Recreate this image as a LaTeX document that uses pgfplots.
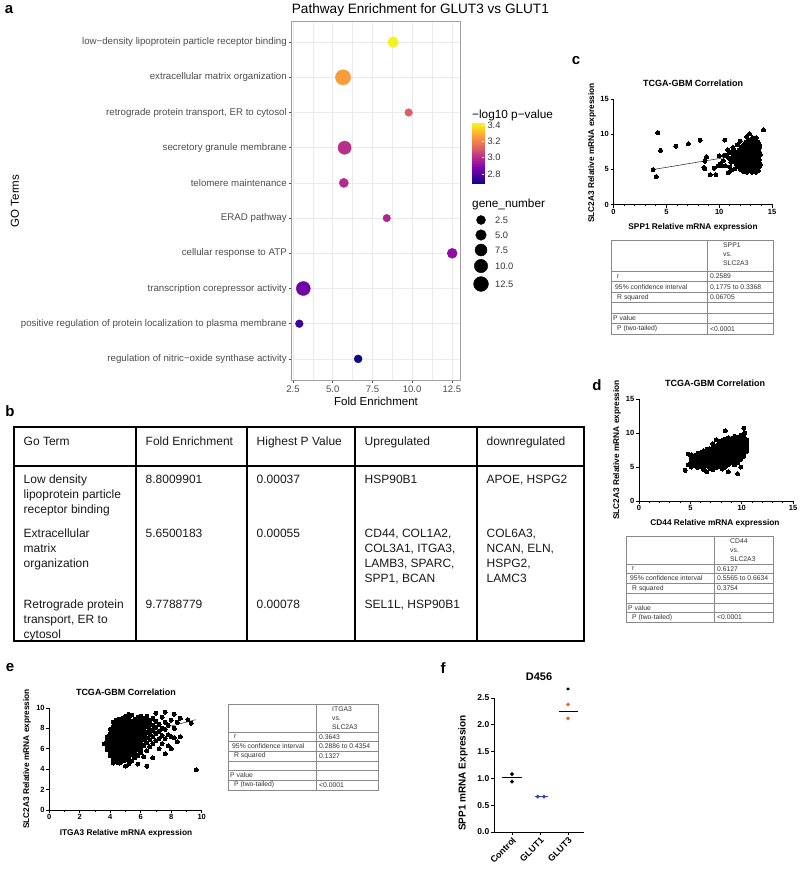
\documentclass[border=0pt]{standalone}
\usepackage{pgfplots}
\pgfplotsset{compat=1.18}
\usepackage{fontspec}
\setmainfont{Liberation Sans}
\definecolor{gtxt}{HTML}{4D4D4D}
\definecolor{ggrid}{HTML}{EBEBEB}
\definecolor{gborder}{HTML}{A0A0A0}
\definecolor{tabline}{HTML}{8A8A8A}
\definecolor{tabtxt}{HTML}{333333}
\definecolor{glutone}{HTML}{3340B5}
\definecolor{gluttwo}{HTML}{E0653C}
\newcommand{\fs}[1]{\fontsize{#1}{#1}\selectfont}
\pgfplotsset{
  colormap={plasma}{rgb255=(13,8,135) rgb255=(65,4,157) rgb255=(106,0,168) rgb255=(143,13,164) rgb255=(177,42,144) rgb255=(204,71,120) rgb255=(225,100,98) rgb255=(242,132,75) rgb255=(252,166,54) rgb255=(252,206,37) rgb255=(240,249,33)},
  gp/.style={scale only axis, axis lines=left, axis line style={-, line width=0.9pt},
    tick style={black, line width=0.8pt}, tick align=outside, major tick length=3pt, minor tick length=2pt,
    ticklabel style={font=\bfseries\fs{7.5}, inner sep=1.5pt},
    /pgf/number format/assume math mode=true, clip=false},
  dots/.style={only marks, mark=*, mark size=2.0pt, black, mark options={draw=black, fill=black, line width=0pt}},
}
\newcommand{\gphdr}{}
\newcommand{\gptable}[9]{%
  \pgfmathsetmacro{\gpb}{#5+6*#6}%
  \draw[tabline, line width=0.6pt] (#1pt,-#4pt) rectangle (#3pt,-\gpb pt);
  \draw[tabline, line width=0.6pt] (#2pt,-#4pt) -- (#2pt,-\gpb pt);
  \foreach \k in {0,...,5}{\pgfmathsetmacro{\yy}{#5+\k*#6}\draw[tabline, line width=0.6pt] (#1pt,-\yy pt) -- (#3pt,-\yy pt);}
  \node[anchor=north west, align=left, inner sep=0pt, font=\fontsize{6.8}{8.8}\selectfont, text=tabtxt] at (#2pt+16pt,-#4pt-3pt) {\gphdr};
  \pgfmathsetmacro{\ya}{#5+0.5*#6}\pgfmathsetmacro{\yb}{#5+1.5*#6}\pgfmathsetmacro{\yc}{#5+2.5*#6}\pgfmathsetmacro{\ye}{#5+4.5*#6}\pgfmathsetmacro{\yf}{#5+5.5*#6}%
  \begin{scope}[every node/.style={anchor=west, inner sep=0pt, font=\fs{6.8}, text=tabtxt}]
  \node at (#1pt+6pt,-\ya pt) {r};
  \node at (#1pt+4pt,-\yb pt) {95\% confidence interval};
  \node at (#1pt+6pt,-\yc pt) {R squared};
  \node at (#1pt+2pt,-\ye pt) {P value};
  \node at (#1pt+6pt,-\yf pt) {P (two-tailed)};
  \node at (#2pt+3pt,-\ya pt) {#7};
  \node at (#2pt+3pt,-\yb pt) {#8};
  \node at (#2pt+3pt,-\yc pt) {#9};
  \node at (#2pt+3pt,-\yf pt) {<0.0001};
  \end{scope}
}
\begin{document}
\begin{tikzpicture}
\useasboundingbox (0pt,0pt) rectangle (800pt,-877pt);
\fill[white] (0pt,0pt) rectangle (800pt,-877pt);

% ---------------- panel labels
\begin{scope}[every node/.style={font=\bfseries\fs{15}, inner sep=0pt}]
\node at (9pt,-10pt) {a};
\node at (10pt,-411pt) {b};
\node at (576pt,-61pt) {c};
\node at (597pt,-385pt) {d};
\node at (10pt,-668pt) {e};
\node at (443pt,-668pt) {f};
\end{scope}

% ---------------- panel a
\begin{axis}[scale only axis, at={(291.7pt,-21pt)}, anchor=north west, width=168.3pt, height=359pt,
  xmin=2.42, xmax=13.01, ymin=0.4, ymax=10.6, y dir=reverse,
  xtick={2.5,5,7.5,10,12.5}, minor xtick={3.75,6.25,8.75,11.25},
  ytick={1,2,3,4,5,6,7,8,9,10},
  yticklabels={low−density lipoprotein particle receptor binding, extracellular matrix organization, {retrograde protein transport, ER to cytosol}, secretory granule membrane, telomere maintenance, ERAD pathway, cellular response to ATP, transcription corepressor activity, positive regulation of protein localization to plasma membrane, regulation of nitric−oxide synthase activity},
  grid=both, major grid style={ggrid, line width=0.55pt}, minor grid style={ggrid, line width=0.3pt},
  axis line style={gborder, line width=0.5pt},
  tick align=outside, major tick length=2.75pt, minor tick length=0pt, tick style={gtxt, line width=0.5pt},
  xtick pos=bottom, ytick pos=left,
  xticklabel style={font=\fs{9.5}, text=gtxt, /pgf/number format/fixed, /pgf/number format/fixed zerofill, /pgf/number format/precision=1},
  yticklabel style={font=\fs{9.7}, text=gtxt, inner sep=2pt},
  /pgf/number format/assume math mode=true,
  colormap name=plasma, point meta min=2.69, point meta max=3.43, clip=false]
\addplot[scatter, only marks, mark=*, point meta=explicit,
  visualization depends on={\thisrow{r} \as \rad},
  scatter/use mapped color={draw=mapped color, fill=mapped color},
  scatter/@pre marker code/.append style={/tikz/mark size=\rad}]
  table[x=fe, y=idx, meta=lp] {
idx fe lp r
1 8.80 3.42 5.3
2 5.65 3.26 7.6
3 9.78 3.12 3.8
4 5.75 3.00 6.6
5 5.70 2.99 4.6
6 8.40 2.98 3.8
7 12.52 2.91 5.0
8 3.15 2.85 7.0
9 2.90 2.76 3.9
10 6.60 2.69 4.0
};
\end{axis}
\node[anchor=west, inner sep=0pt, font=\fs{13.6}] at (291.7pt,-10pt) {Pathway Enrichment for GLUT3 vs GLUT1};
\node[rotate=90, inner sep=0pt, font=\fs{11.5}] at (15pt,-201pt) {GO Terms};
\node[inner sep=0pt, font=\fs{11.5}] at (376pt,-401pt) {Fold Enrichment};

% colour bar
\node[anchor=west, inner sep=0pt, font=\fs{11.8}] at (472pt,-115pt) {−log10 p−value};
\begin{axis}[scale only axis, at={(472pt,-123pt)}, anchor=north west, width=12pt, height=60pt,
  xmin=0, xmax=1, ymin=2.69, ymax=3.425, axis line style={draw=none}, xtick=\empty,
  ytick={2.8,3.0,3.2,3.4}, ytick pos=right, yticklabel pos=right, tick align=inside, major tick length=2.4pt,
  tick style={white, line width=0.6pt},
  yticklabel style={font=\fs{9.3}, text=black!80, /pgf/number format/fixed, /pgf/number format/fixed zerofill, /pgf/number format/precision=1},
  /pgf/number format/assume math mode=true, colormap name=plasma, point meta min=2.69, point meta max=3.43, axis on top]
\addplot[surf, shader=interp, point meta=y, mesh/cols=2] coordinates {
(0,2.69) (1,2.69)

(0,2.76) (1,2.76)

(0,2.83) (1,2.83)

(0,2.90) (1,2.90)

(0,2.97) (1,2.97)

(0,3.04) (1,3.04)

(0,3.11) (1,3.11)

(0,3.18) (1,3.18)

(0,3.25) (1,3.25)

(0,3.32) (1,3.32)

(0,3.39) (1,3.39)

(0,3.425) (1,3.425)
};
\end{axis}

% size legend
\node[anchor=west, inner sep=0pt, font=\fs{11.8}] at (472pt,-204pt) {gene\_number};
\begin{axis}[scale only axis, at={(472pt,-212pt)}, anchor=north west, width=40pt, height=80pt,
  xmin=0, xmax=40, ymin=0, ymax=80, y dir=reverse, hide axis, clip=false]
\addplot[scatter, only marks, mark=*,
  visualization depends on={\thisrow{r} \as \rad},
  scatter/use mapped color={draw=black, fill=black},
  scatter/@pre marker code/.append style={/tikz/mark size=\rad}]
  table[x=x, y=y] {
x y r
9 8 4.5
9 23 5.3
9 38 6.0
9 54 6.7
9 72 7.4
};
\end{axis}
\begin{scope}[every node/.style={anchor=west, inner sep=0pt, font=\fs{9.3}, text=black!80}]
\node at (495pt,-220pt) {2.5};
\node at (495pt,-235pt) {5.0};
\node at (495pt,-250pt) {7.5};
\node at (495pt,-266pt) {10.0};
\node at (495pt,-284pt) {12.5};
\end{scope}

% ---------------- panel b (table)
\begin{scope}[line width=1.1pt]
\draw (14pt,-427pt) rectangle (584pt,-641pt);
\draw (14pt,-466pt) -- (584pt,-466pt);
\foreach \cx in {136,247,355,477} {\draw (\cx pt,-427pt) -- (\cx pt,-641pt);}
\end{scope}
\begin{scope}[every node/.style={anchor=north west, align=left, inner sep=0pt, font=\fontsize{12}{15}\selectfont, text=black!90}]
\node at (23.5pt,-437pt) {Go Term};
\node at (145.5pt,-437pt) {Fold Enrichment};
\node at (256.5pt,-437pt) {Highest P Value};
\node at (364.5pt,-437pt) {Upregulated};
\node at (486.5pt,-437pt) {downregulated};
\node at (23.5pt,-475pt) {Low density\\lipoprotein particle\\receptor binding};
\node at (145.5pt,-475pt) {8.8009901};
\node at (256.5pt,-475pt) {0.00037};
\node at (364.5pt,-475pt) {HSP90B1};
\node at (486.5pt,-475pt) {APOE, HSPG2};
\node at (23.5pt,-529pt) {Extracellular\\matrix\\organization};
\node at (145.5pt,-529pt) {5.6500183};
\node at (256.5pt,-529pt) {0.00055};
\node at (364.5pt,-529pt) {CD44, COL1A2,\\COL3A1, ITGA3,\\LAMB3, SPARC,\\SPP1, BCAN};
\node at (486.5pt,-529pt) {COL6A3,\\NCAN, ELN,\\HSPG2,\\LAMC3};
\node at (23.5pt,-600pt) {Retrograde protein\\transport, ER to\\cytosol};
\node at (145.5pt,-600pt) {9.7788779};
\node at (256.5pt,-600pt) {0.00078};
\node at (364.5pt,-600pt) {SEL1L, HSP90B1};
\end{scope}

% ---------------- panel c
\node[font=\bfseries\fs{9}, inner sep=0pt] at (693pt,-83pt) {TCGA-GBM Correlation};
\node[font=\bfseries\fs{8.3}, inner sep=0pt] at (693pt,-227pt) {SPP1 Relative mRNA expression};
\node[font=\bfseries\fs{8.3}, inner sep=0pt, rotate=90] at (592pt,-153pt) {SLC2A3 Relative mRNA expression};
\begin{axis}[gp, at={(613.5pt,-204.5pt)}, anchor=south west, width=158.5pt, height=105.5pt,
  xmin=0, xmax=15, ymin=0, ymax=15, xtick={0,5,10,15}, ytick={0,5,10,15}, minor x tick num=4]
\addplot[black!75, line width=0.6pt] coordinates {(3.75,4.97) (14.0,7.53)};
\addplot[dots] coordinates {
(3.75,4.97) (4.04,3.97) (4.19,10.22) (4.45,7.69) (5.91,8.31) (7.09,8.65) (8.20,9.13) (8.80,6.78)
(8.64,6.16) (8.55,5.26) (8.64,5.07) (9.15,4.25) (9.69,4.25) (9.53,5.16) (10.52,9.17) (10.10,5.80)
(10.25,5.50) (10.87,4.54) (12.87,10.03) (14.2,10.6) (10.0,6.9) (9.9,5.5)
(10.4,6.2) (10.5,7.0) (10.6,5.5) (10.8,7.8) (10.9,6.6) (11.0,7.4) (11.1,6.0) (11.2,4.9) (11.3,8.1)
(11.5,5.1) (11.7,8.5) (12.0,9.0) (12.3,4.7) (12.6,9.6) (10.7,6.9) (11.0,5.3) (11.4,7.7)
(12.6,4.6) (13.1,4.6) (13.5,4.6)
(12.2,4.85) (12.9,4.85) (13.3,4.85) (13.7,4.85)
(12.0,5.0) (12.5,5.0) (12.8,5.0) (13.2,5.0) (13.6,5.0)
(11.8,5.35) (12.3,5.35) (12.6,5.35) (12.9,5.35) (13.2,5.35) (13.5,5.35) (13.8,5.35)
(11.6,5.7) (12.1,5.7) (12.4,5.7) (12.7,5.7) (13.0,5.7) (13.3,5.7) (13.6,5.7) (13.9,5.7)
(11.4,6.05) (11.9,6.05) (12.2,6.05) (12.5,6.05) (12.8,6.05) (13.1,6.05) (13.4,6.05) (13.7,6.05)
(11.2,6.4) (11.7,6.4) (12.0,6.4) (12.3,6.4) (12.6,6.4) (12.9,6.4) (13.2,6.4) (13.5,6.4) (13.8,6.4)
(11.5,6.75) (11.9,6.75) (12.2,6.75) (12.5,6.75) (12.8,6.75) (13.1,6.75) (13.4,6.75) (13.7,6.75)
(11.3,7.1) (11.8,7.1) (12.1,7.1) (12.4,7.1) (12.7,7.1) (13.0,7.1) (13.3,7.1) (13.6,7.1) (13.9,7.1)
(11.6,7.45) (12.0,7.45) (12.3,7.45) (12.6,7.45) (12.9,7.45) (13.2,7.45) (13.5,7.45) (13.8,7.45)
(11.9,7.8) (12.2,7.8) (12.5,7.8) (12.8,7.8) (13.1,7.8) (13.4,7.8) (13.7,7.8)
(12.1,8.15) (12.4,8.15) (12.7,8.15) (13.0,8.15) (13.3,8.15) (13.6,8.15) (13.85,8.15)
(12.3,8.5) (12.6,8.5) (12.9,8.5) (13.2,8.5) (13.5,8.5) (13.8,8.5)
(12.5,8.85) (12.8,8.85) (13.1,8.85) (13.4,8.85) (13.7,8.85)
(12.8,9.2) (13.1,9.2) (13.4,9.2) (13.2,9.5) (13.5,9.5)
};
\end{axis}
\renewcommand{\gphdr}{SPP1\\vs.\\SLC2A3}
\gptable{611}{707}{773}{240}{271}{10.5}{0.2589}{0.1775 to 0.3368}{0.06705}

% ---------------- panel d
\node[font=\bfseries\fs{9}, inner sep=0pt] at (715pt,-383pt) {TCGA-GBM Correlation};
\node[font=\bfseries\fs{8.3}, inner sep=0pt] at (715pt,-523pt) {CD44 Relative mRNA expression};
\node[font=\bfseries\fs{8.3}, inner sep=0pt, rotate=90] at (617pt,-450pt) {SLC2A3 Relative mRNA expression};
\begin{axis}[gp, at={(639pt,-501pt)}, anchor=south west, width=154pt, height=102pt,
  xmin=0, xmax=15, ymin=0, ymax=15, xtick={0,5,10,15}, ytick={0,5,10,15}, minor x tick num=4]
\addplot[dots] coordinates {
(4.5,4.5) (4.8,5.3) (4.8,6.9)
(5.1,5.0) (5.1,5.6) (5.1,6.2) (5.1,6.8)
(5.4,5.2) (5.4,5.7) (5.4,6.2) (5.4,6.7)
(5.7,4.9) (5.7,5.4) (5.7,5.8) (5.7,6.2) (5.7,6.6) (5.7,7.0)
(6.0,5.1) (6.0,5.5) (6.0,5.9) (6.0,6.3) (6.0,6.7) (6.0,7.1)
(6.3,4.6) (6.3,5.0) (6.3,5.4) (6.3,5.8) (6.3,6.2) (6.3,6.6) (6.3,7.0) (6.3,7.4)
(6.6,4.3) (6.6,5.2) (6.6,5.6) (6.6,6.0) (6.6,6.4) (6.6,6.8) (6.6,7.2) (6.6,7.6)
(6.9,4.8) (6.9,5.3) (6.9,5.7) (6.9,6.1) (6.9,6.5) (6.9,6.9) (6.9,7.3) (6.9,7.7)
(7.2,4.6) (7.2,5.1) (7.2,5.5) (7.2,5.9) (7.2,6.3) (7.2,6.7) (7.2,7.1) (7.2,7.5) (7.2,7.9) (7.2,8.4)
(7.5,4.9) (7.5,5.3) (7.5,5.7) (7.5,6.1) (7.5,6.5) (7.5,6.9) (7.5,7.3) (7.5,7.7) (7.5,8.1) (7.5,9.0)
(7.8,5.1) (7.8,5.5) (7.8,5.9) (7.8,6.3) (7.8,6.7) (7.8,7.1) (7.8,7.5) (7.8,7.9) (7.8,8.3) (7.8,8.7)
(8.1,4.7) (8.1,5.3) (8.1,5.7) (8.1,6.1) (8.1,6.5) (8.1,6.9) (8.1,7.3) (8.1,7.7) (8.1,8.1) (8.1,8.5) (8.1,8.9)
(8.4,5.0) (8.4,5.5) (8.4,5.9) (8.4,6.3) (8.4,6.7) (8.4,7.1) (8.4,7.5) (8.4,7.9) (8.4,8.3) (8.4,8.7) (8.4,9.1) (8.4,10.3)
(8.7,4.3) (8.7,5.3) (8.7,5.7) (8.7,6.1) (8.7,6.5) (8.7,6.9) (8.7,7.3) (8.7,7.7) (8.7,8.1) (8.7,8.5) (8.7,8.9) (8.7,9.3)
(9.0,5.6) (9.0,6.0) (9.0,6.4) (9.0,6.8) (9.0,7.2) (9.0,7.6) (9.0,8.0) (9.0,8.4) (9.0,8.8) (9.0,9.2)
(9.3,5.3) (9.3,5.9) (9.3,6.3) (9.3,6.7) (9.3,7.1) (9.3,7.5) (9.3,7.9) (9.3,8.3) (9.3,8.7) (9.3,9.1) (9.3,9.5)
(9.6,4.0) (9.6,5.6) (9.6,6.2) (9.6,6.6) (9.6,7.0) (9.6,7.4) (9.6,7.8) (9.6,8.2) (9.6,8.6) (9.6,9.0) (9.6,9.4)
(9.9,5.0) (9.9,6.1) (9.9,6.5) (9.9,6.9) (9.9,7.3) (9.9,7.7) (9.9,8.1) (9.9,8.5) (9.9,8.9) (9.9,9.3) (9.9,9.7)
(10.2,6.6) (10.2,7.0) (10.2,7.4) (10.2,7.8) (10.2,8.2) (10.2,8.6) (10.2,9.0) (10.2,9.4) (10.2,10.7)
(10.5,7.3) (10.5,7.8) (10.5,8.2) (10.5,8.6) (10.5,9.0) (10.3,10.06)
};
\end{axis}
\renewcommand{\gphdr}{CD44\\vs.\\SLC2A3}
\gptable{626}{714}{773}{536}{564}{9.7}{0.6127}{0.5565 to 0.6634}{0.3754}

% ---------------- panel e
\node[font=\bfseries\fs{9}, inner sep=0pt] at (126pt,-692pt) {TCGA-GBM Correlation};
\node[font=\bfseries\fs{8.3}, inner sep=0pt] at (126pt,-833pt) {ITGA3 Relative mRNA expression};
\node[font=\bfseries\fs{8.3}, inner sep=0pt, rotate=90] at (27pt,-759pt) {SLC2A3 Relative mRNA expression};
\begin{axis}[gp, at={(49.3pt,-810pt)}, anchor=south west, width=152.4pt, height=102pt,
  xmin=0, xmax=10, ymin=0, ymax=10, xtick={0,2,4,6,8,10}, ytick={0,2,4,6,8,10}, minor x tick num=1]
\addplot[dots] coordinates {
(3.6,6.5) (3.8,5.9) (3.8,6.3) (3.8,6.8) (3.8,7.2)
(4.0,5.3) (4.0,5.7) (4.0,6.0) (4.0,6.4) (4.0,6.7) (4.0,7.1) (4.0,7.5) (4.0,7.9)
(4.2,4.6) (4.2,5.0) (4.2,5.4) (4.2,5.7) (4.2,6.0) (4.2,6.3) (4.2,6.6) (4.2,6.9) (4.2,7.2) (4.2,7.5) (4.2,7.8) (4.2,8.1) (4.2,8.6)
(4.4,4.7) (4.4,5.0) (4.4,5.3) (4.4,5.6) (4.4,5.9) (4.4,6.2) (4.4,6.5) (4.4,6.8) (4.4,7.1) (4.4,7.4) (4.4,7.7) (4.4,8.0) (4.4,8.3) (4.4,8.8)
(4.6,4.6) (4.6,4.9) (4.6,5.2) (4.6,5.5) (4.6,5.8) (4.6,6.1) (4.6,6.4) (4.6,6.7) (4.6,7.0) (4.6,7.3) (4.6,7.6) (4.6,7.9) (4.6,8.2) (4.6,8.5) (4.6,8.9)
(4.8,4.8) (4.8,5.1) (4.8,5.4) (4.8,5.7) (4.8,6.0) (4.8,6.3) (4.8,6.6) (4.8,6.9) (4.8,7.2) (4.8,7.5) (4.8,7.8) (4.8,8.1) (4.8,8.4) (4.8,8.7) (4.8,9.0)
(5.0,4.3) (5.0,4.9) (5.0,5.2) (5.0,5.5) (5.0,5.8) (5.0,6.1) (5.0,6.4) (5.0,6.7) (5.0,7.0) (5.0,7.3) (5.0,7.6) (5.0,7.9) (5.0,8.2) (5.0,8.5) (5.0,8.8) (5.0,9.2)
(5.2,4.5) (5.2,5.0) (5.2,5.3) (5.2,5.6) (5.2,5.9) (5.2,6.2) (5.2,6.5) (5.2,6.8) (5.2,7.1) (5.2,7.4) (5.2,7.7) (5.2,8.0) (5.2,8.3) (5.2,8.6) (5.2,9.0) (5.2,9.4)
(5.4,4.8) (5.4,5.4) (5.4,5.7) (5.4,6.0) (5.4,6.3) (5.4,6.6) (5.4,6.9) (5.4,7.2) (5.4,7.5) (5.4,7.8) (5.4,8.1) (5.4,8.4) (5.4,8.7) (5.4,9.3)
(5.6,5.1) (5.6,5.5) (5.6,5.8) (5.6,6.1) (5.6,6.4) (5.6,6.7) (5.6,7.0) (5.6,7.3) (5.6,7.6) (5.6,7.9) (5.6,8.2) (5.6,8.5) (5.6,8.9)
(5.8,4.5) (5.8,5.3) (5.8,5.9) (5.8,6.2) (5.8,6.5) (5.8,6.8) (5.8,7.1) (5.8,7.4) (5.8,7.7) (5.8,8.0) (5.8,8.3) (5.8,8.6) (5.8,9.1)
(6.0,5.6) (6.0,6.0) (6.0,6.4) (6.0,6.8) (6.0,7.2) (6.0,7.5) (6.0,7.8) (6.0,8.1) (6.0,8.4) (6.0,8.8) (6.0,9.2)
(6.2,5.2) (6.2,6.3) (6.2,6.9) (6.2,7.3) (6.2,7.7) (6.2,8.0) (6.2,8.3) (6.2,8.6) (6.2,9.0)
(6.4,4.3) (6.4,5.8) (6.4,6.6) (6.4,7.1) (6.4,7.6) (6.4,8.2) (6.4,8.5) (6.4,8.9) (6.4,9.2)
(6.6,6.2) (6.6,6.9) (6.6,7.4) (6.6,7.9) (6.6,8.4) (6.6,8.8)
(6.8,5.1) (6.8,6.5) (6.8,7.2) (6.8,7.8) (6.8,8.3) (6.8,9.0)
(7.0,6.8) (7.0,7.5) (7.0,8.1) (7.0,8.7) (7.0,9.5)
(7.2,6.0) (7.2,7.0) (7.2,7.7) (7.2,8.4)
(7.4,6.5) (7.4,7.3) (7.4,8.0) (7.4,9.1)
(7.6,5.5) (7.6,7.0) (7.6,7.9) (7.6,8.6) (7.6,9.6)
(7.8,6.3) (7.8,7.4) (7.8,8.3)
(8.0,6.0) (8.0,7.2) (8.0,8.8)
(8.2,7.1) (8.2,8.0) (8.2,9.4)
(8.4,6.7) (8.4,8.6) (8.6,7.2) (8.6,9.0)
(9.1,8.85) (9.3,8.5) (9.63,3.93)
};
\addplot[black!75, line width=0.6pt] coordinates {(3.6,6.55) (9.6,8.85)};
\end{axis}
\renewcommand{\gphdr}{ITGA3\\vs.\\SLC2A3}
\gptable{228}{316}{378}{704}{732}{9.67}{0.3643}{0.2886 to 0.4354}{0.1327}

% ---------------- panel f
\node[font=\bfseries\fs{11}, inner sep=0pt] at (539pt,-677pt) {D456};
\node[font=\bfseries\fs{10}, inner sep=0pt, rotate=90] at (463pt,-773pt) {SPP1 mRNA Expression};
\begin{axis}[gp, at={(494pt,-832pt)}, anchor=south west, width=90pt, height=134pt,
  xmin=0.357, xmax=3.57, ymin=0, ymax=2.5, xtick={1,2,3}, xticklabels={Control,GLUT1,GLUT3},
  ytick={0,0.5,1,1.5,2,2.5},
  yticklabel style={font=\bfseries\fs{8.5}, /pgf/number format/fixed, /pgf/number format/fixed zerofill, /pgf/number format/precision=1},
  xticklabel style={font=\bfseries\fs{9}, rotate=45, anchor=north east, inner sep=1pt}]
\addplot[black, line width=1pt] coordinates {(0.66,1.01) (1.34,1.01)};
\addplot[glutone, line width=1pt] coordinates {(1.82,0.66) (2.29,0.66)};
\addplot[black, line width=1pt] coordinates {(2.66,2.25) (3.34,2.25)};
\addplot[only marks, mark=*, mark size=1.7pt, black] coordinates {(1,1.08) (1,0.94)};
\addplot[only marks, mark=*, mark size=1.7pt, glutone] coordinates {(1.92,0.66) (2.14,0.66)};
\addplot[only marks, mark=*, mark size=1.7pt, gluttwo] coordinates {(3,2.38) (3,2.12)};
\addplot[only marks, mark=asterisk, mark size=1.6pt, black, line width=0.7pt] coordinates {(3,2.67)};
\end{axis}
\end{tikzpicture}
\end{document}
